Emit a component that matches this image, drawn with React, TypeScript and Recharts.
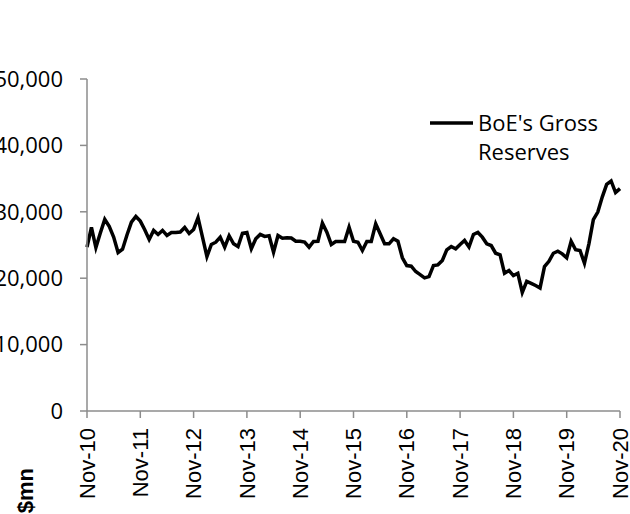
import React from 'react';
import { LineChart, Line, XAxis, YAxis, Legend } from 'recharts';

const MONTH_NAMES = ['Jan', 'Feb', 'Mar', 'Apr', 'May', 'Jun', 'Jul', 'Aug', 'Sep', 'Oct', 'Nov', 'Dec'];

// Monthly categories Nov-10 .. Nov-20
const months: string[] = Array.from({ length: 121 }, (_, i) => {
  const m = (10 + i) % 12;
  const y = 10 + Math.floor((10 + i) / 12);
  return `${MONTH_NAMES[m]}-${String(y).padStart(2, '0')}`;
});

const xTicks = ['Nov-10', 'Nov-11', 'Nov-12', 'Nov-13', 'Nov-14', 'Nov-15', 'Nov-16', 'Nov-17', 'Nov-18', 'Nov-19', 'Nov-20'];
const yTicks = [0, 10000, 20000, 30000, 40000, 50000];

const grossReserves = [
  24670, 27640, 24620, 26800, 28850, 27800, 26200, 23870, 24370, 26500,
  28450, 29300, 28600, 27300, 25830, 27190, 26590, 27190, 26440, 26890,
  26900, 26950, 27640, 26740, 27340, 29110, 26200, 23260, 25080, 25420,
  26180, 24670, 26390, 25180, 24770, 26780, 26890, 24430, 25940, 26590,
  26290, 26390, 23910, 26440, 26030, 26090, 26050, 25570, 25550, 25450,
  24670, 25530, 25570, 28290, 26930, 25080, 25530, 25530, 25530, 27690,
  25570, 25420, 24170, 25530, 25530, 28200, 26690, 25180, 25180, 25940,
  25570, 23070, 21900, 21800, 21000, 20540, 20050, 20240, 21900, 22010,
  22660, 24280, 24770, 24430, 25080, 25680, 24700, 26590, 26890, 26180,
  25180, 24920, 23760, 23520, 20740, 21150, 20390, 20740, 17870, 19530,
  19230, 18900, 18530, 21750, 22550, 23760, 24060, 23670, 23070, 25570,
  24280, 24170, 22250, 25180, 28810, 29960, 32220, 34140, 34640, 32890,
  33490,
];

const seriesName = "BoE's Gross Reserves";
const yTitle = '$mn';

const data = months.map((m, i) => ({ month: m, value: grossReserves[i] }));

const AXIS_COLOR = '#8c8c8c';

const XTick = (props: any) => {
  const { x, y, payload } = props;
  return (
    <text
      x={x}
      y={y}
      transform={`rotate(-90 ${x} ${y})`}
      textAnchor="end"
      dy="0.35em"
      fontSize={22}
      fontFamily="'Liberation Sans', Arial, sans-serif"
      fill="#000"
    >
      {payload.value}
    </text>
  );
};

const YTitle = (props: any) => {
  const vb = props.viewBox || {};
  const x = (vb.x ?? 0) + 33;
  const y = (vb.y ?? 0) + (vb.height ?? 0) + 57;
  return (
    <text
      x={x}
      y={y}
      transform={`rotate(-90 ${x} ${y})`}
      textAnchor="end"
      fontSize={22}
      fontWeight="bold"
      fontFamily="'Liberation Sans', Arial, sans-serif"
      fill="#000"
    >
      {yTitle}
    </text>
  );
};

const LegendContent = () => (
  <div style={{ position: 'relative', fontFamily: "'Open Sans', sans-serif", fontSize: 22, lineHeight: '29px', color: '#000', textAlign: 'left' }}>
    <svg width={44} height={29} style={{ position: 'absolute', left: 0, top: 0 }}>
      <line x1={0} y1={15} x2={43} y2={15} stroke="#000" strokeWidth={3.5} />
    </svg>
    <div style={{ marginLeft: 48, width: 150 }}>
      BoE's Gross
      <br />
      Reserves
    </div>
  </div>
);

export default function App() {
  return (
    <div style={{ position: 'absolute', left: 0, top: 0, width: 630, height: 514, overflow: 'hidden', background: '#fff' }}>
      <LineChart width={630} height={514} data={data} margin={{ top: 79, right: 10, bottom: 0, left: 0 }}>
        <XAxis
          dataKey="month"
          ticks={xTicks}
          interval={0}
          height={103}
          tickSize={7}
          tickMargin={10}
          tick={<XTick />}
          axisLine={{ stroke: AXIS_COLOR, strokeWidth: 1.5 }}
          tickLine={{ stroke: AXIS_COLOR, strokeWidth: 1.5 }}
        />
        <YAxis
          width={87}
          domain={[0, 50000]}
          ticks={yTicks}
          interval={0}
          tickSize={7}
          tickMargin={17}
          tickFormatter={(v: number) => v.toLocaleString('en-US')}
          tick={{ fontSize: 22, fontFamily: "'Open Sans', sans-serif", fill: '#000' }}
          axisLine={{ stroke: AXIS_COLOR, strokeWidth: 1.5 }}
          tickLine={{ stroke: AXIS_COLOR, strokeWidth: 1.5 }}
          label={<YTitle />}
        />
        <Legend
          layout="horizontal"
          verticalAlign="middle"
          align="center"
          content={<LegendContent />}
          wrapperStyle={{ position: 'absolute', left: 430, top: 108, width: 200, height: 60 }}
        />
        <Line
          type="linear"
          dataKey="value"
          name={seriesName}
          stroke="#000"
          strokeWidth={3.5}
          dot={false}
          isAnimationActive={false}
        />
      </LineChart>
    </div>
  );
}
